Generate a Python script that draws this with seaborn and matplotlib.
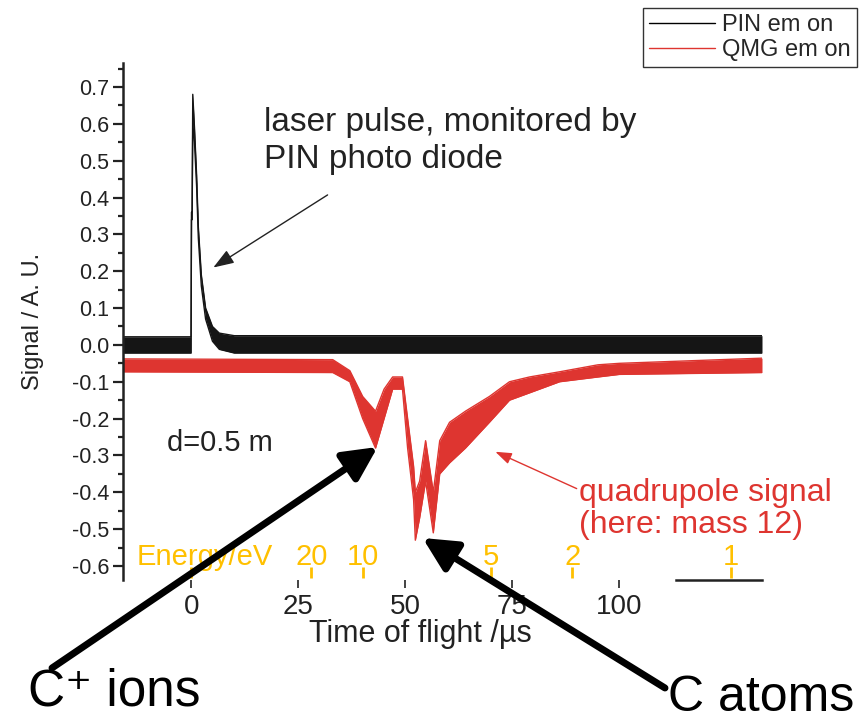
import numpy as np
import pandas as pd
import matplotlib
matplotlib.use("Agg")
import matplotlib.pyplot as plt
import seaborn as sns
from matplotlib.lines import Line2D
from matplotlib.ticker import MultipleLocator, FormatStrFormatter

sns.set_theme(style="ticks")
plt.rcParams["font.family"] = ["Liberation Sans", "DejaVu Sans"]

RED = "#DE3530"
GOLD = "#FFC000"
INK = "#222222"

# ------------------------------------------------------------------ #
# data (envelope of the noisy traces)
# ------------------------------------------------------------------ #
# PIN photo diode (laser pulse)
pin_t = [-16, -0.1, 0.0, 0.15, 0.3, 0.7, 1.2, 1.6, 2.3, 3.3, 4.9, 6.5, 10, 133.3]
pin_hi = [0.022, 0.022, 0.36, 0.36, 0.68, 0.59, 0.46, 0.32, 0.19, 0.10, 0.05, 0.032, 0.025, 0.025]
pin_lo = [-0.022, -0.022, 0.34, 0.34, 0.60, 0.55, 0.43, 0.29, 0.16, 0.07, 0.01, -0.012, -0.022, -0.022]

# QMG quadrupole signal (mass 12)
qmg_t = [-16, 33, 37, 40, 43, 45, 47, 49.3, 50.5, 51.9, 52.3, 53.3, 54.7,
         56.5, 58, 60.3, 64, 69.6, 74.3, 79, 86, 95, 100, 133.3]
qmg_hi = [-0.038, -0.04, -0.07, -0.14, -0.18, -0.12, -0.087, -0.087, -0.2, -0.33,
          -0.40, -0.37, -0.26, -0.40, -0.26, -0.21, -0.18, -0.14, -0.10, -0.087,
          -0.073, -0.054, -0.05, -0.036]
qmg_lo = [-0.073, -0.075, -0.10, -0.20, -0.28, -0.20, -0.12, -0.12, -0.28, -0.42,
          -0.53, -0.47, -0.37, -0.51, -0.35, -0.32, -0.28, -0.21, -0.15, -0.13,
          -0.10, -0.087, -0.08, -0.075]

# energy scale (eV) placed at time of flight (us)
energy_t = [0, 28, 40, 70, 89, 126]
energy_labels = ["", "20", "10", "5", "2", "1"]

x_ticks = [0, 25, 50, 75, 100]

pin = pd.DataFrame({"t": pin_t, "hi": pin_hi, "lo": pin_lo})
qmg = pd.DataFrame({"t": qmg_t, "hi": qmg_hi, "lo": qmg_lo})

# ------------------------------------------------------------------ #
# figure
# ------------------------------------------------------------------ #
fig = plt.figure(figsize=(8.68, 7.23), dpi=100)
ax = fig.add_axes([123 / 868, 1 - 580 / 723, 639 / 868, 517 / 723])

# red first, black drawn over it
ax.fill_between(qmg["t"], qmg["lo"], qmg["hi"], color=RED, lw=0)
sns.lineplot(data=qmg, x="t", y="hi", color=RED, lw=1, ax=ax, sort=False)
sns.lineplot(data=qmg, x="t", y="lo", color=RED, lw=1, ax=ax, sort=False)

ax.fill_between(pin["t"], pin["lo"], pin["hi"], color="#151515", lw=0)
sns.lineplot(data=pin, x="t", y="hi", color="#151515", lw=1, ax=ax, sort=False)
sns.lineplot(data=pin, x="t", y="lo", color="#151515", lw=1, ax=ax, sort=False)

ax.set_xlim(-16, 133.3)
ax.set_ylim(-0.638, 0.765)

# axes styling
ax.spines["top"].set_visible(False)
ax.spines["right"].set_visible(False)
ax.spines["left"].set_linewidth(1.8)
ax.spines["left"].set_color(INK)
ax.spines["bottom"].set_linewidth(1.8)
ax.spines["bottom"].set_color(INK)
ax.spines["bottom"].set_bounds(113.3, 133.3)

ax.yaxis.set_major_locator(MultipleLocator(0.1))
ax.yaxis.set_minor_locator(MultipleLocator(0.05))
ax.yaxis.set_major_formatter(FormatStrFormatter("%.1f"))
ax.set_xticks(x_ticks)
ax.tick_params(axis="y", which="major", direction="out", length=7, width=1.6,
               color=INK, labelsize=15.5, labelcolor=INK, pad=3)
ax.tick_params(axis="y", which="minor", direction="out", length=3.5, width=1.6, color=INK)
ax.tick_params(axis="x", direction="out", length=5.8, width=1.2, color=INK,
               labelsize=20, labelcolor=INK, pad=4)

ax.set_ylabel("Signal / A. U.", fontsize=17, color=INK, labelpad=20)
ax.set_xlabel("Time of flight /µs", fontsize=22, color=INK)
ax.xaxis.set_label_coords(0.466, -0.075)
ax.xaxis.label.set_va("top")

# energy scale
ax.vlines(energy_t, -0.632, -0.602, color=GOLD, lw=2)
ax.text(-12.9, -0.597, "Energy/eV", color=GOLD, fontsize=21, va="baseline", ha="left")
for t, lab in zip(energy_t, energy_labels):
    if lab:
        ax.text(t, -0.597, lab, color=GOLD, fontsize=21, va="baseline", ha="center")

# annotations
ax.text(17, 0.645, "laser pulse, monitored by\nPIN photo diode", fontsize=24,
        color=INK, ha="left", va="top", linespacing=1.25)
ax.annotate("", xy=(5.1, 0.21), xytext=(31.8, 0.407),
            arrowprops=dict(arrowstyle="-|>,head_length=0.7,head_width=0.25",
                            mutation_scale=18, color=INK, lw=1, shrinkA=0, shrinkB=0))

ax.text(-5.8, -0.266, "d=0.5 m", fontsize=21, color=INK, ha="left", va="center")

ax.text(90.5, -0.36, "quadrupole signal\n(here: mass 12)", fontsize=23, color=RED,
        ha="left", va="top", linespacing=1.1)
ax.annotate("", xy=(71, -0.29), xytext=(90.0, -0.39),
            arrowprops=dict(arrowstyle="-|>,head_length=0.7,head_width=0.25",
                            mutation_scale=14, color=RED, lw=1, shrinkA=0, shrinkB=0))

thick = dict(arrowstyle="-|>,head_length=0.6,head_width=0.3", mutation_scale=34,
             color="black", lw=5, shrinkA=0, shrinkB=0)
ax.annotate("", xy=(43.5, -0.277), xycoords="data",
            xytext=(52 / 868, 1 - 668 / 723), textcoords="figure fraction",
            arrowprops=thick, annotation_clip=False)
ax.annotate("", xy=(54.0, -0.524), xycoords="data",
            xytext=(665 / 868, 1 - 688 / 723), textcoords="figure fraction",
            arrowprops=thick, annotation_clip=False)
fig.text(28 / 868, 1 - 705 / 723, "C⁺ ions", fontsize=37, color="black", va="baseline")
fig.text(668 / 868, 1 - 711 / 723, "C atoms", fontsize=36, color="black", va="baseline")

# legend
handles = [Line2D([], [], color="black", lw=1), Line2D([], [], color=RED, lw=1)]
leg = fig.legend(handles, ["PIN em on", "QMG em on"], loc="upper right",
                 bbox_to_anchor=(857 / 868, 1 - 8 / 723), fontsize=17,
                 frameon=True, fancybox=False, framealpha=1, edgecolor="#333333",
                 handlelength=2.8, handletextpad=0.3, labelspacing=0.15,
                 borderpad=0.25, borderaxespad=0)
leg.get_frame().set_linewidth(1)

fig.savefig("out.png", dpi=100)
